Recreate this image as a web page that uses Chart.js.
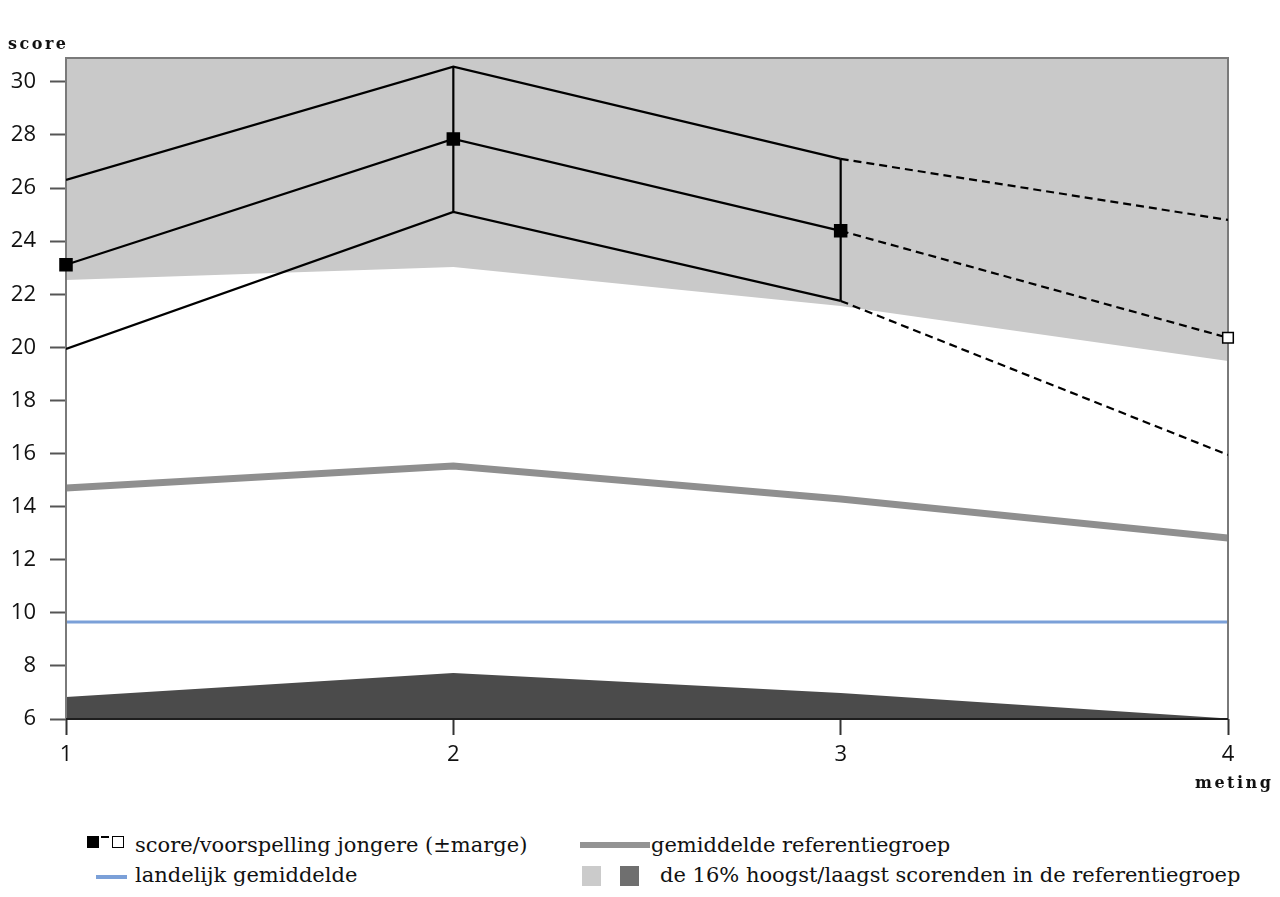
<!DOCTYPE html>
<html>
<head>
<meta charset="utf-8">
<script src="https://cdn.jsdelivr.net/npm/chart.js@4"></script>
<style>
  body { margin: 0; background: #fff; width: 1280px; height: 897px; position: relative; overflow: hidden; }
  #chartViz { position: absolute; left: 0; top: 0; }
  .title { position: absolute; font-family: "DejaVu Serif", serif; font-weight: bold; font-size: 16px; letter-spacing: 2.5px; color: #111; }
  .lg { position: absolute; font-family: "DejaVu Serif", serif; font-size: 21px; color: #111; white-space: nowrap; line-height: 24px; }
  .mk { position: absolute; }
</style>
</head>
<body>
<canvas id="chartViz" width="1280" height="800"></canvas>
<div class="title" style="left:8px; top:34px;">score</div>
<div class="title" style="left:1195px; top:773px;">meting</div>

<div class="mk" style="left:87px; top:836px; width:12px; height:12px; background:#000;"></div>
<div class="mk" style="left:101px; top:836px; width:8px; height:2px; background:#000;"></div>
<div class="mk" style="left:112px; top:836px; width:10px; height:10px; border:1px solid #000; background:#fff;"></div>
<div class="lg" style="left:135px; top:833px;">score/voorspelling jongere (±marge)</div>
<div class="mk" style="left:96px; top:875px; width:31px; height:4px; background:#7ba0d8;"></div>
<div class="lg" style="left:135px; top:863px;">landelijk gemiddelde</div>

<div class="mk" style="left:580px; top:842px; width:70px; height:6px; background:#939393;"></div>
<div class="lg" style="left:651px; top:833px;">gemiddelde referentiegroep</div>
<div class="mk" style="left:582px; top:866px; width:19px; height:20px; background:#cbcbcb;"></div>
<div class="mk" style="left:620px; top:866px; width:19px; height:20px; background:#6f6f6f;"></div>
<div class="lg" style="left:660px; top:863px;">de 16% hoogst/laagst scorenden in de referentiegroep</div>

<script>
var metingen = [1, 2, 3, 4];
var score = [23.11, 27.85, 24.39, 20.36];
var scoreBoven = [26.31, 30.57, 27.10, 24.80];
var scoreOnder = [19.94, 25.10, 21.75, 15.95];
var grensHoog = [22.54, 23.03, 21.56, 19.49];
var grensLaag = [6.83, 7.73, 6.98, 6.02];
var gemiddeldeRef = [14.70, 15.53, 14.29, 12.82];
var landelijk = [9.65, 9.65, 9.65, 9.65];
var yTicks = [6, 8, 10, 12, 14, 16, 18, 20, 22, 24, 26, 28, 30];
var xTicks = [1, 2, 3, 4];

function toPoints(values){
    return values.map(function(v, i){
        return {x: metingen[i], y: v};
    });
}

// solid up to meting 3, dashed for the prediction
var predictionSegment = {
    borderDash: function(ctx){ return ctx.p1DataIndex === 3 ? [8, 5] : undefined; }
};

function drawBox(chart){
    var a = chart.chartArea;
    var c = chart.ctx;
    c.save();
    c.lineWidth = 2;
    c.strokeStyle = "#7a7a7a";
    c.beginPath();
    c.moveTo(a.left, a.bottom);
    c.lineTo(a.left, a.top);
    c.lineTo(a.right, a.top);
    c.lineTo(a.right, a.bottom);
    c.stroke();
    c.strokeStyle = "#1e1e1e";
    c.beginPath();
    c.moveTo(a.left, a.bottom);
    c.lineTo(a.right, a.bottom);
    c.stroke();
    c.restore();
}

// frame goes over the shaded bands but under the score lines and points
var boxPlugin = {
    id: "box",
    afterDatasetDraw: function(chart, args){
        if (args.index === 3) drawBox(chart);
    }
};

function populateChart(){
    var context = document.getElementById("chartViz").getContext("2d");
    var datasets = [
        {
            data: toPoints(grensHoog), fill: "end", backgroundColor: "#c9c9c9",
            borderWidth: 0, pointRadius: 0, order: 10
        },
        {
            data: toPoints(grensLaag), fill: "start", backgroundColor: "#4b4b4b",
            borderWidth: 0, pointRadius: 0, order: 10
        },
        {
            data: toPoints(landelijk), borderColor: "#7ba0d8", borderWidth: 3,
            pointRadius: 0, fill: false, order: 8
        },
        {
            data: toPoints(gemiddeldeRef), borderColor: "#8f8f8f", borderWidth: 7,
            pointRadius: 0, fill: false, order: 7
        },
        {
            data: toPoints(scoreBoven), borderColor: "#000", borderWidth: 2.2,
            pointRadius: 0, fill: false, segment: predictionSegment, order: 5
        },
        {
            data: toPoints(scoreOnder), borderColor: "#000", borderWidth: 2.2,
            pointRadius: 0, fill: false, segment: predictionSegment, order: 5
        }
    ];
    // vertical margin bars at meting 2 and 3
    [1, 2].forEach(function(i){
        datasets.push({
            data: [{x: metingen[i], y: scoreOnder[i]}, {x: metingen[i], y: scoreBoven[i]}],
            borderColor: "#000", borderWidth: 2.2, pointRadius: 0, fill: false, order: 4
        });
    });
    datasets.push({
        data: toPoints(score), borderColor: "#000", borderWidth: 2.2, fill: false,
        segment: predictionSegment, order: 1, clip: false,
        pointStyle: "rect",
        pointRadius: [8.5, 8.5, 8.5, 7.5],
        pointBackgroundColor: ["#000", "#000", "#000", "#fff"],
        pointBorderColor: "#000",
        pointBorderWidth: 1.5
    });

    var tickFont = { family: "'Open Sans'", size: 22 };
    var config = {
        type: "line",
        data: { datasets: datasets },
        plugins: [boxPlugin],
        options: {
            responsive: false,
            animation: false,
            layout: { padding: { top: 58, right: 52, bottom: 31, left: 0 } },
            plugins: { legend: { display: false }, tooltip: { enabled: false } },
            scales: {
                x: {
                    type: "linear", min: 1, max: 4,
                    afterFit: function(s){ s.height = 50; },
                    afterBuildTicks: function(s){ s.ticks = xTicks.map(function(v){ return {value: v}; }); },
                    grid: { drawOnChartArea: false, tickLength: 16, color: "#333", tickWidth: 2 },
                    border: { display: false },
                    ticks: { padding: 7, color: "#111", font: tickFont }
                },
                y: {
                    min: 6, max: 30.9,
                    afterFit: function(s){ s.width = 66; },
                    afterBuildTicks: function(s){ s.ticks = yTicks.map(function(v){ return {value: v}; }); },
                    grid: { drawOnChartArea: false, tickLength: 16, color: "#555", tickWidth: 2 },
                    border: { display: false },
                    ticks: { padding: 14, color: "#111", font: tickFont }
                }
            }
        }
    };
    new Chart(context, config);
}

window.onload = function(){
    document.fonts.load("22px 'Open Sans'").then(populateChart, populateChart);
};
</script>
</body>
</html>
